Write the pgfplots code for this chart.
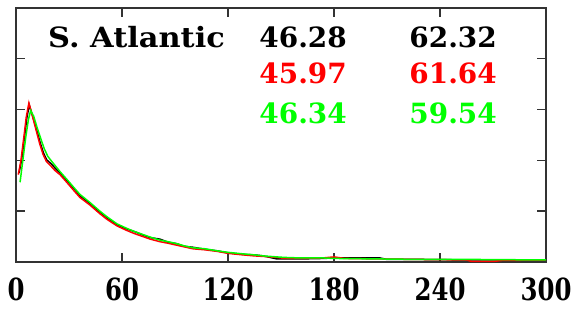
\documentclass[border=0pt]{standalone}
\usepackage{pgfplots}
\pgfplotsset{compat=1.18}
\usepackage{fontspec}
\setmainfont{DejaVu Serif}
\definecolor{pred}{RGB}{255,0,0}
\definecolor{pgreen}{RGB}{0,255,0}
\begin{document}
\begin{tikzpicture}
\path[use as bounding box] (-16bp,-64bp) rectangle (562bp,262bp);
\begin{axis}[
  scale only axis, width=530bp, height=254bp,
  xmin=0, xmax=300, ymin=0, ymax=5,
  xtick={0,60,120,180,240,300},
  ytick={1,2,3,4}, yticklabels={},
  tick align=inside, tick pos=both,
  major tick length=9bp,
  axis line style={line width=1.6bp, draw=black!80},
  every tick/.style={line width=1.4bp, draw=black!80},
  /pgf/number format/assume math mode=true,
  xticklabel={\scalebox{1}[1.25]{\pgfmathprintnumber{\tick}}},
  xticklabel style={font=\fontsize{24.5}{25}\selectfont\bfseries, yshift=-12bp},
  clip=false,
]
\addplot[black, line width=1.5bp] coordinates {
(1.7,1.75) (3.2,2.01) (5.1,2.54) (6.1,2.83) (7.5,3.09) (9.6,2.85) (11.7,2.60)
(13.6,2.36) (15.5,2.15) (17.4,2.01) (20,1.93) (22.1,1.85) (24.9,1.75) (28.7,1.61)
(33.4,1.42) (36.2,1.30) (41.9,1.15) (47.5,0.98) (51.5,0.87) (57.2,0.73) (62.8,0.65)
(67,0.60) (71.9,0.53) (76,0.48) (81.5,0.45) (86,0.39) (91.1,0.36) (95,0.31)
(100.2,0.29) (107,0.25) (113.8,0.22) (120,0.18) (128.5,0.15) (135,0.14) (140,0.12)
(147.7,0.06) (152,0.06) (160.8,0.06) (173.7,0.07) (180,0.08) (206,0.08) (210,0.05)
(228.7,0.05) (260,0.04) (300,0.04)};
\addplot[pred, line width=1.5bp] coordinates {
(1.3,1.72) (2.8,2.0) (4.6,2.5) (5.8,2.85) (7.3,3.13) (9.4,2.86) (11.5,2.58)
(13.4,2.33) (15.3,2.12) (17.2,1.98) (20,1.88) (22.1,1.80) (24.9,1.72) (28.7,1.57)
(33.4,1.38) (36.2,1.27) (41.9,1.12) (47.5,0.95) (51.5,0.84) (57.2,0.71) (62.8,0.62)
(67,0.56) (71.9,0.50) (76,0.45) (81.5,0.40) (86,0.37) (91.1,0.33) (95,0.30)
(100.2,0.26) (107,0.24) (113.8,0.21) (120,0.17) (128.5,0.14) (135,0.12) (140,0.11)
(147.7,0.09) (152,0.07) (160.8,0.07) (173.7,0.08) (180,0.10) (186,0.07) (206,0.06)
(228.7,0.05) (255,0.04) (258,0.01) (270,0.01) (275,0.03) (300,0.04)};
\addplot[pgreen, line width=1.5bp] coordinates {
(2.3,1.57) (3.5,1.9) (5.5,2.45) (7,2.8) (8.3,2.98) (10,2.87) (12,2.64)
(14,2.43) (16,2.23) (18,2.08) (20,1.99) (22.1,1.90) (24.9,1.78) (28.7,1.63)
(33.4,1.44) (36.2,1.33) (41.9,1.17) (47.5,1.0) (51.5,0.89) (57.2,0.75) (62.8,0.66)
(67,0.60) (71.9,0.54) (76,0.49) (81.5,0.43) (86,0.40) (91.1,0.36) (95,0.32)
(100.2,0.28) (107,0.26) (113.8,0.22) (120,0.19) (128.5,0.16) (135,0.14) (140,0.12)
(147.7,0.10) (152,0.09) (160.8,0.08) (173.7,0.08) (180,0.07) (206,0.06) (228.7,0.05)
(260,0.05) (300,0.04)};
\end{axis}
\begin{scope}[every node/.style={inner sep=0pt, font=\fontsize{28}{28}\selectfont\bfseries}]
\node[anchor=west] at (32bp,225bp) {\scalebox{1.09}[1]{S. Atlantic}};
\node[anchor=east] at (331bp,225bp) {46.28};
\node[anchor=east] at (481bp,225bp) {62.32};
\node[anchor=east, text=pred] at (331bp,189bp) {45.97};
\node[anchor=east, text=pred] at (481bp,189bp) {61.64};
\node[anchor=east, text=pgreen] at (331bp,149bp) {46.34};
\node[anchor=east, text=pgreen] at (481bp,149bp) {59.54};
\end{scope}
\end{tikzpicture}
\end{document}
